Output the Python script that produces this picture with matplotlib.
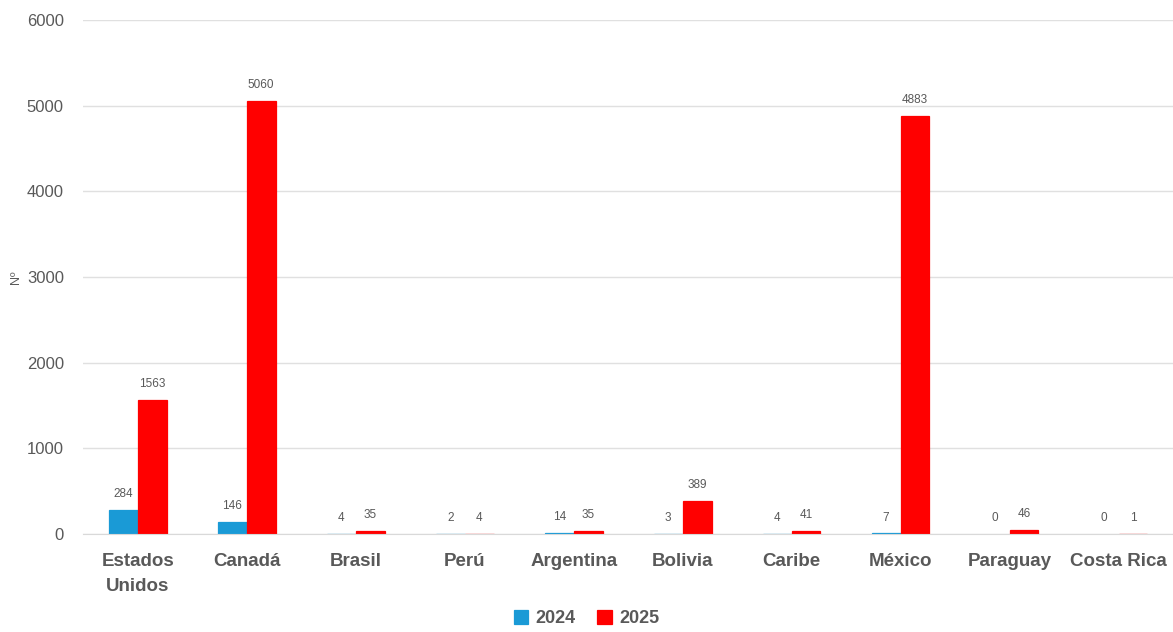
import numpy as np
import matplotlib
matplotlib.use("Agg")
import matplotlib.pyplot as plt

# data
categories = ["Estados\nUnidos", "Canadá", "Brasil", "Perú", "Argentina",
              "Bolivia", "Caribe", "México", "Paraguay", "Costa Rica"]
vals_2024 = [284, 146, 4, 2, 14, 3, 4, 7, 0, 0]
vals_2025 = [1563, 5060, 35, 4, 35, 389, 41, 4883, 46, 1]
series_names = ["2024", "2025"]
yticks = [0, 1000, 2000, 3000, 4000, 5000, 6000]

c24 = "#1A9AD6"
c25 = "#FF0000"
grey = "#595959"

plt.rcParams['font.family'] = ['Liberation Sans', 'DejaVu Sans']

fig = plt.figure(figsize=(11.73, 6.32), dpi=100)
ax = fig.add_axes([0.071, 0.155, 0.929, 0.813])

x = np.arange(len(categories))
w = 0.265
# thin outline so tiny non-zero bars still show as a line, like the source
lw24 = [0.9 if v > 0 else 0 for v in vals_2024]
lw25 = [0.9 if v > 0 else 0 for v in vals_2025]
b1 = ax.bar(x - w/2, vals_2024, w, color=c24, edgecolor=c24, linewidth=lw24,
            label=series_names[0])
b2 = ax.bar(x + w/2, vals_2025, w, color=c25, edgecolor=c25, linewidth=lw25,
            label=series_names[1])

for bars in (b1, b2):
    for r in bars:
        h = r.get_height()
        ax.annotate(f"{int(h)}", (r.get_x() + r.get_width()/2, h),
                    xytext=(0, 7), textcoords="offset points",
                    ha="center", va="bottom", fontsize=8.5, color=grey)

ax.set_xlim(-0.5, len(categories) - 0.5)
ax.set_ylim(0, 6000)
ax.set_yticks(yticks)
ax.tick_params(axis="y", length=0, labelsize=12, labelcolor=grey, pad=14)
ax.tick_params(axis="x", length=0, labelsize=13.5, labelcolor=grey, pad=14)
ax.set_xticks(x)
ax.set_xticklabels(categories, fontweight="bold", linespacing=1.55)
ax.grid(axis="y", color="#e0e0e0", linewidth=1)
ax.set_axisbelow(True)
for s in ["top", "right", "left"]:
    ax.spines[s].set_visible(False)
ax.spines["bottom"].set_color("#d9d9d9")

ax.set_ylabel("Nº", fontsize=9, color=grey)
ax.yaxis.set_label_coords(-0.056, 0.5)

leg = fig.legend(loc="lower center", bbox_to_anchor=(0.5, -0.018), ncol=2,
                 frameon=False, handlelength=0.8, handleheight=0.8,
                 columnspacing=1.2, handletextpad=0.4,
                 prop={"size": 13, "weight": "bold"})
for t in leg.get_texts():
    t.set_color(grey)

fig.savefig("out.png", dpi=100)
